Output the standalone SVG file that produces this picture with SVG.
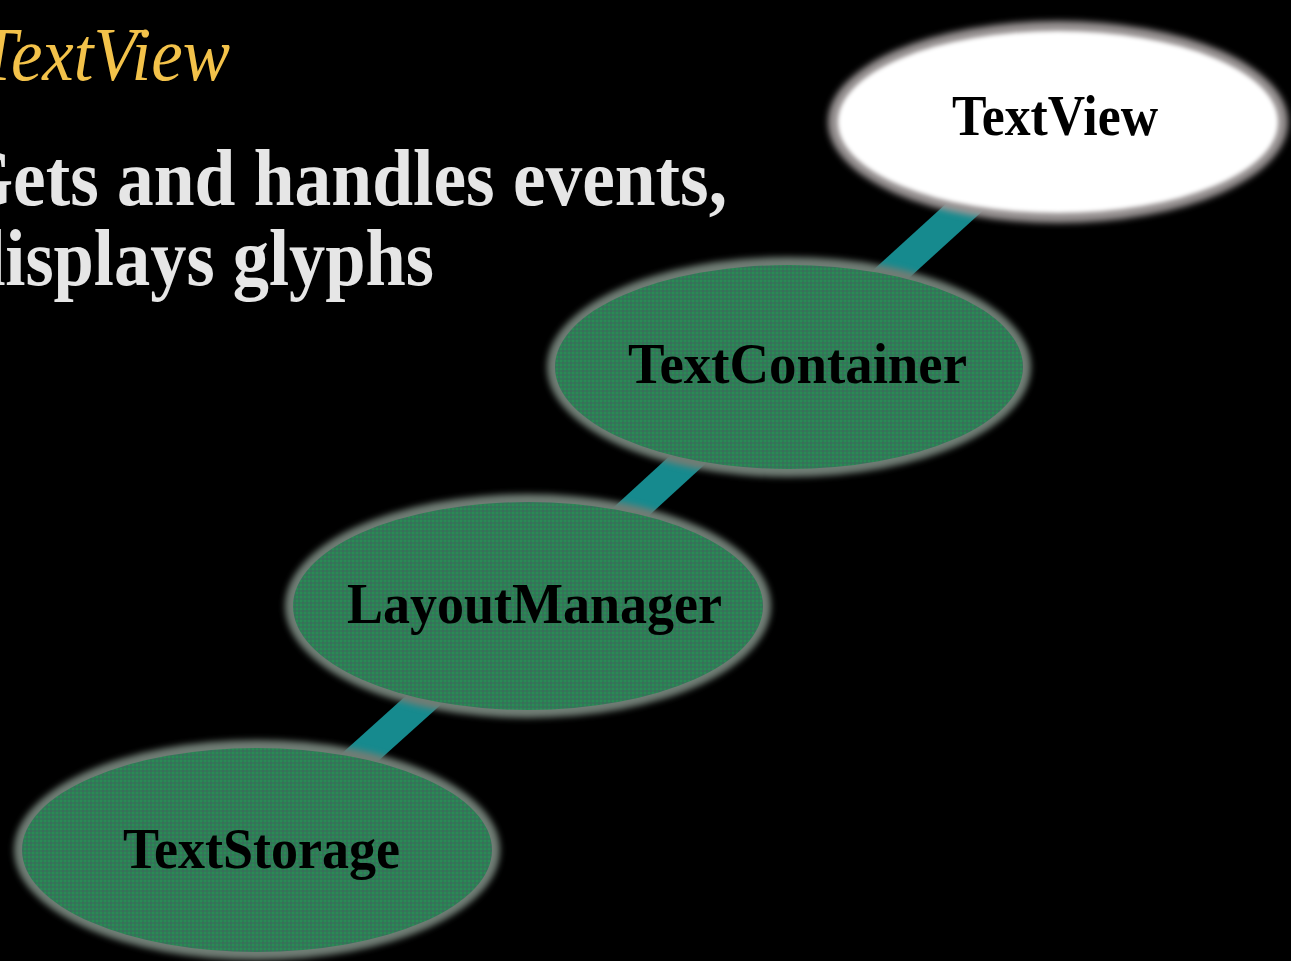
<svg xmlns="http://www.w3.org/2000/svg" width="1291" height="961" viewBox="0 0 1291 961">
<style>
.title{font-family:"Liberation Serif","Times New Roman",serif;font-style:italic;font-size:76px;fill:#f3c24a}
.body{font-family:"Liberation Serif","Times New Roman",serif;font-weight:bold;font-size:80px;fill:#e6e6e6}
.lbl{font-family:"Liberation Serif","Times New Roman",serif;font-weight:bold;font-size:56px;fill:#000}
.conn{stroke:#168a8e;stroke-width:30;fill:none}
.grim{fill:#6f7d74;filter:url(#soft)}
.gbody{fill:url(#dither)}
.wrim{fill:#9a9494;filter:url(#soft)}
.wbody{fill:#ffffff;filter:url(#soft2)}
</style>
<defs>
<filter id="soft" x="-10%" y="-10%" width="120%" height="120%"><feGaussianBlur stdDeviation="3"/></filter>
<filter id="soft2" x="-10%" y="-10%" width="120%" height="120%"><feGaussianBlur stdDeviation="2"/></filter>
<pattern id="dither" width="4" height="4" patternUnits="userSpaceOnUse">
<rect width="4" height="4" fill="#2f7c56"/>
<rect width="2" height="2" fill="#2a8a55"/>
<rect x="2" y="2" width="2" height="2" fill="#3a6e5c"/>
</pattern>
</defs>
<rect width="1291" height="961" fill="#000"/>
<text class="title" x="-22" y="80" textLength="252" lengthAdjust="spacingAndGlyphs">TextView</text>
<text class="body" x="-44" y="205" textLength="771" lengthAdjust="spacingAndGlyphs">Gets and handles events,</text>
<text class="body" x="-35" y="285" textLength="469" lengthAdjust="spacingAndGlyphs">displays glyphs</text>
<g id="connectors">
<line class="conn" x1="1058" y1="122" x2="789" y2="367"/>
<line class="conn" x1="789" y1="367" x2="528" y2="606"/>
<line class="conn" x1="528" y1="606" x2="257" y2="850"/>
</g>
<g id="node-textview">
<ellipse class="wrim" cx="1058" cy="122" rx="230" ry="101"/>
<ellipse class="wbody" cx="1058" cy="122" rx="220" ry="91"/>
<text class="lbl" x="952" y="135" textLength="206" lengthAdjust="spacingAndGlyphs">TextView</text>
</g>
<g id="node-textcontainer">
<ellipse class="grim" cx="789" cy="367" rx="242" ry="110"/>
<ellipse class="gbody" cx="789" cy="367" rx="234" ry="102"/>
<text class="lbl" x="628" y="383" textLength="339" lengthAdjust="spacingAndGlyphs">TextContainer</text>
</g>
<g id="node-layoutmanager">
<ellipse class="grim" cx="528" cy="606" rx="243" ry="112"/>
<ellipse class="gbody" cx="528" cy="606" rx="235" ry="104"/>
<text class="lbl" x="347" y="623" textLength="375" lengthAdjust="spacingAndGlyphs">LayoutManager</text>
</g>
<g id="node-textstorage">
<ellipse class="grim" cx="257" cy="850" rx="243" ry="110"/>
<ellipse class="gbody" cx="257" cy="850" rx="235" ry="102"/>
<text class="lbl" x="123" y="868" textLength="277" lengthAdjust="spacingAndGlyphs">TextStorage</text>
</g>
</svg>
